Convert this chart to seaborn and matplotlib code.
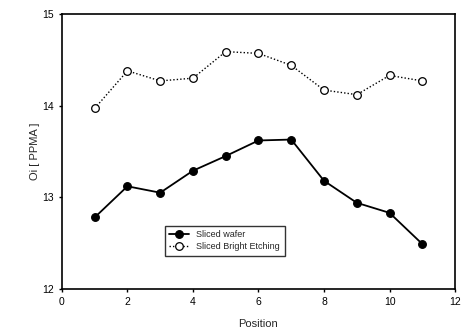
import pandas as pd
import matplotlib
matplotlib.use("Agg")
import matplotlib.pyplot as plt
import seaborn as sns

# data
position = [1, 2, 3, 4, 5, 6, 7, 8, 9, 10, 11]
sliced_wafer = [12.78, 13.12, 13.05, 13.29, 13.45, 13.62, 13.63, 13.18, 12.94, 12.83, 12.49]
bright_etching = [13.97, 14.38, 14.27, 14.30, 14.59, 14.57, 14.44, 14.17, 14.12, 14.33, 14.27]
series_names = ["Sliced wafer", "Sliced Bright Etching"]

df = pd.DataFrame({
    "Position": position * 2,
    "Oi": sliced_wafer + bright_etching,
    "Series": [series_names[0]] * len(position) + [series_names[1]] * len(position),
})

sns.set_style("ticks")
plt.rcParams["font.family"] = ["Liberation Sans", "DejaVu Sans"]

fig = plt.figure(figsize=(4.62, 3.34), dpi=100)
ax = fig.add_axes([0.134, 0.135, 0.851, 0.823])

sns.lineplot(data=df, x="Position", y="Oi", style="Series", hue="Series",
             palette=["black", "black"], markers=["o", "o"],
             dashes=[(None, None), (1, 1.5)], ax=ax, legend=False)

lines = ax.get_lines()
lines[0].set_markerfacecolor("black")
lines[0].set_linewidth(1.3)
lines[1].set_markerfacecolor("white")
lines[1].set_linewidth(1.0)
for ln in lines[:2]:
    ln.set_markersize(5.5)
    ln.set_markeredgecolor("black")
    ln.set_markeredgewidth(0.9)

ax.legend(lines[:2], series_names, loc="lower left", bbox_to_anchor=(0.25, 0.105),
          fontsize=6.5, frameon=True, fancybox=False, edgecolor="black",
          handlelength=2.2, borderpad=0.5, labelspacing=0.3)

ax.set_xlim(0, 12)
ax.set_ylim(12, 15)
ax.set_xticks([0, 2, 4, 6, 8, 10, 12])
ax.set_yticks([12, 13, 14, 15])
ax.tick_params(direction="out", length=2.5, width=1, labelsize=7.5, colors="black", pad=3)
ax.set_xlabel("Position", fontsize=8, labelpad=9)
ax.set_ylabel("Oi [ PPMA ]", fontsize=8, labelpad=2)
for s in ax.spines.values():
    s.set_linewidth(1.2)
    s.set_color("black")

fig.savefig("out.png", dpi=100)
